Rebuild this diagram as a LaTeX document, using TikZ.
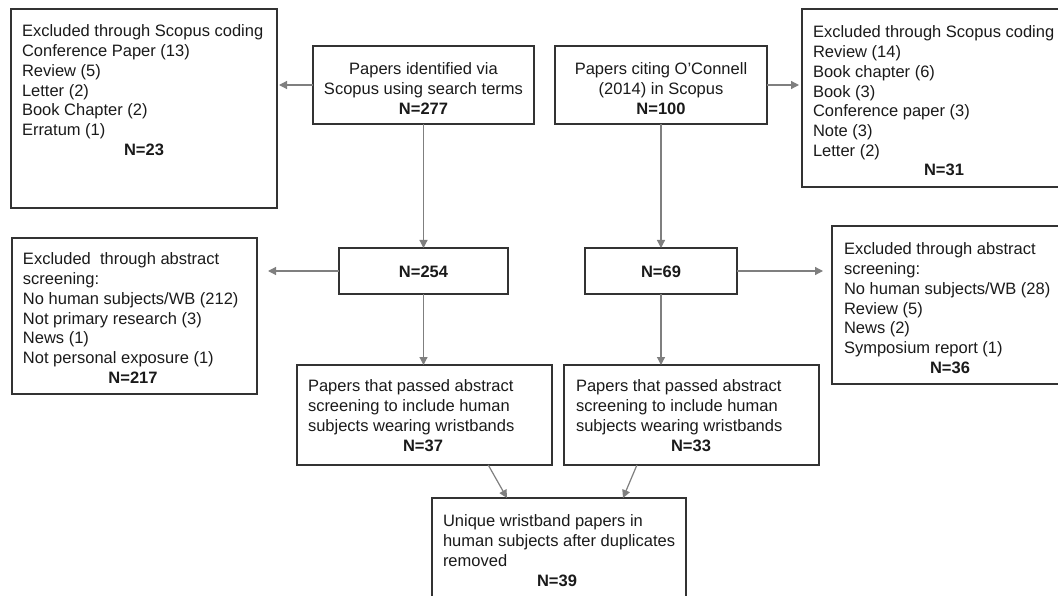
\documentclass[tikz,border=0pt]{standalone}
\usepackage{fontspec}
\setmainfont{Liberation Sans}
\usetikzlibrary{arrows.meta,calc}
\definecolor{boxline}{HTML}{333333}
\definecolor{arrline}{HTML}{7F7F7F}
\definecolor{ink}{HTML}{1A1A1A}
\begin{document}
\begin{tikzpicture}[x=1pt,y=-1pt,
  box/.style={draw=boxline,line width=1.3pt,inner sep=0pt,outer sep=0pt,anchor=north west},
  openbox/.style={draw=none,inner sep=0pt,outer sep=0pt,anchor=north west},
  txt/.style={inner sep=0pt,outer sep=0pt,align=left,text=ink,font=\fontsize{16.5pt}{19.7pt}\selectfont},
  ctxt/.style={inner sep=0pt,outer sep=0pt,align=center,text=ink,font=\fontsize{16.5pt}{19.7pt}\selectfont},
  arr/.style={draw=arrline,line width=1.2pt,-{Triangle[length=8pt,width=8pt]}}]
\useasboundingbox (0,0) rectangle (1058,596);
% boxes
\node[box,minimum width=266,minimum height=199] (A) at (11,9) {};
\node[box,minimum width=221,minimum height=78] (B) at (313,46) {};
\node[box,minimum width=212,minimum height=78] (C) at (555,46) {};
\node[openbox,minimum width=260,minimum height=178] (D) at (802,9) {};
\draw[boxline,line width=1.3pt] (D.north east) -- (D.north west) -- (D.south west) -- (D.south east);
\node[box,minimum width=245,minimum height=156] (E) at (12,238) {};
\node[box,minimum width=169,minimum height=46] (F) at (339,248) {};
\node[box,minimum width=152,minimum height=46] (G) at (585,248) {};
\node[box,minimum width=255,minimum height=100] (H) at (297,365) {};
\node[box,minimum width=255,minimum height=100] (I) at (564,365) {};
\node[openbox,minimum width=230,minimum height=158] (J) at (832,226) {};
\draw[boxline,line width=1.3pt] (J.north east) -- (J.north west) -- (J.south west) -- (J.south east);
\node[openbox,minimum width=254,minimum height=102] (K) at (432,498) {};
\draw[boxline,line width=1.3pt] (K.south west) -- (K.north west) -- (K.north east) -- (K.south east);
% texts
\node[txt,anchor=north west] (At) at (22,25) {Excluded through Scopus coding\\Conference Paper (13)\\Review (5)\\Letter (2)\\Book Chapter (2)\\Erratum (1)\\\makebox[244pt]{\textbf{N=23}}};
\node[ctxt,anchor=north] (Bt) at (423.5,63) {Papers identified via\\Scopus using search terms\\\textbf{N=277}};
\node[ctxt,anchor=north] (Ct) at (661,63) {Papers citing O’Connell\\(2014) in Scopus\\\textbf{N=100}};
\node[txt,anchor=north west] (Dt) at (813,26) {Excluded through Scopus coding\\Review (14)\\Book chapter (6)\\Book (3)\\Conference paper (3)\\Note (3)\\Letter (2)\\\makebox[262pt]{\textbf{N=31}}};
\node[txt,anchor=north west] (Et) at (23,253) {Excluded\ \ through abstract\\screening:\\No human subjects/WB (212)\\Not primary research (3)\\News (1)\\Not personal exposure (1)\\\makebox[220pt]{\textbf{N=217}}};
\node[ctxt] (Ft) at ($(F.center)+(0,1)$) {\textbf{N=254}};
\node[ctxt] (Gt) at ($(G.center)+(0,1)$) {\textbf{N=69}};
\node[txt,anchor=north west] (Ht) at (308,380) {Papers that passed abstract\\screening to include human\\subjects wearing wristbands\\\makebox[230pt]{\textbf{N=37}}};
\node[txt,anchor=north west] (It) at (576,380) {Papers that passed abstract\\screening to include human\\subjects wearing wristbands\\\makebox[230pt]{\textbf{N=33}}};
\node[txt,anchor=north west] (Jt) at (844,243) {Excluded through abstract\\screening:\\No human subjects/WB (28)\\Review (5)\\News (2)\\Symposium report (1)\\\makebox[212pt]{\textbf{N=36}}};
\node[txt,anchor=north west] (Kt) at (443,515) {Unique wristband papers in\\human subjects after duplicates\\removed\\\makebox[228pt]{\textbf{N=39}}};
% connectors
\draw[arr,shorten >=2pt] (B.west) -- (B.west -| A.east);
\draw[arr,shorten >=3pt] (C.east) -- (C.east -| D.west);
\draw[arr] (B.south) -- (F.north);
\draw[arr] (C.south) -- (G.north);
\draw[arr,shorten >=11pt] (F.west) -- (F.west -| E.east);
\draw[arr,shorten >=9pt] (G.east) -- (G.east -| J.west);
\draw[arr] (F.south) -- (F.south |- H.north);
\draw[arr] (G.south) -- (G.south |- I.north);
\draw[arr] ($(H.south west)!0.75!(H.south east)$) -- ($(K.north west)!0.295!(K.north east)$);
\draw[arr] ($(I.south west)!0.286!(I.south east)$) -- ($(K.north west)!0.752!(K.north east)$);
\end{tikzpicture}
\end{document}
